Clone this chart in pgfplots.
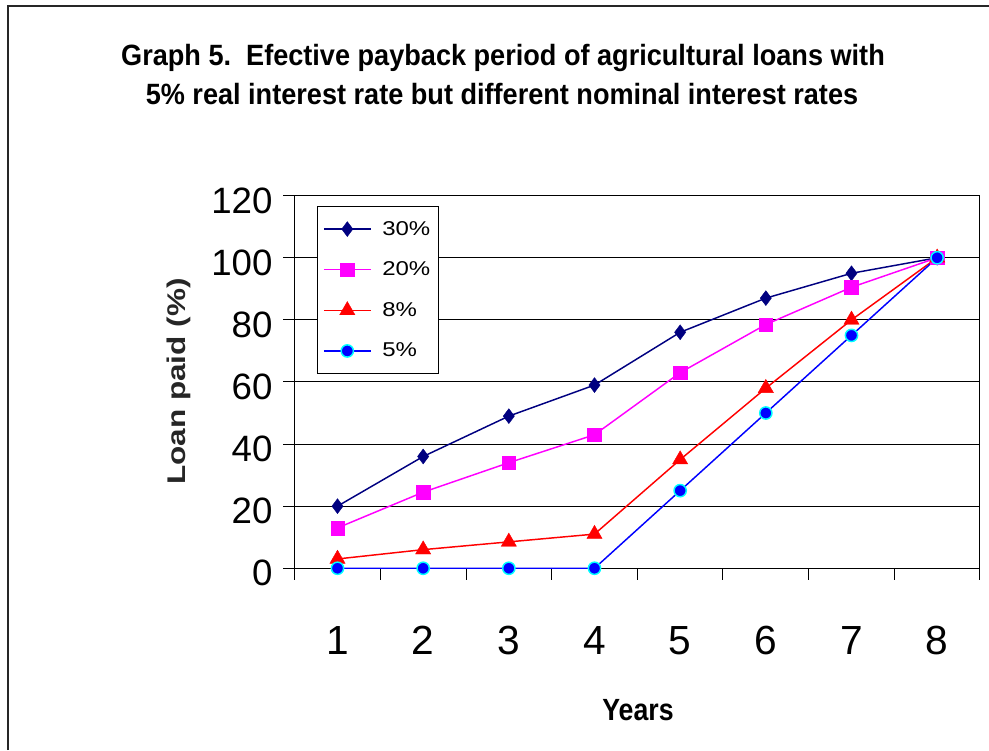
\documentclass[border=0pt]{standalone}
\usepackage{fontspec}
\setmainfont{Liberation Sans}
\usepackage{graphicx}
\usepackage{pgfplots}
\pgfplotsset{compat=1.18}

\definecolor{navyline}{HTML}{000080}
\definecolor{magline}{HTML}{FF00FF}
\definecolor{redline}{HTML}{FF0000}
\definecolor{blueline}{HTML}{0000FF}
\definecolor{cyanring}{HTML}{00FFFF}

\pgfplotstableread{
year r30 r20 r8 r5
1 20 13 3 0
2 36 24.5 6 0
3 49 34 8.5 0
4 59 43 11 0
5 76 63 35 25
6 87 78.5 58 50
7 95 90.5 80 75
8 100 100 100 100
}\loantable

\begin{document}
\begin{tikzpicture}[x=0.75pt,y=0.75pt]
\useasboundingbox (0,0) rectangle (989,750);
% outer chart frame
\draw[line width=1.4pt, black!85] (8,0) -- (8,744) -- (989,744);

\begin{axis}[
  at={(221.0pt,136.3pt)}, anchor=south west,
  scale only axis, width=514pt, height=279.45pt,
  xmin=0.5, xmax=8.5, ymin=0, ymax=120,
  xtick={0.5,1.5,...,8.5}, xticklabels={},
  extra x ticks={1,2,3,4,5,6,7,8},
  extra x tick labels={1,2,3,4,5,6,7,8},
  extra x tick style={
    major tick length=0pt,
    xticklabel style={font=\fontsize{30.5}{30.5}\selectfont, anchor=base, yshift=-64.5pt},
  },
  ytick={0,20,...,120},
  tick align=outside, tick pos=left,
  major tick length=8.6pt,
  tick style={black, line width=0.75pt},
  ymajorgrids,
  major grid style={black, line width=0.75pt},
  axis line style={black, line width=0.75pt},
  /pgf/number format/assume math mode=true,
  yticklabel style={font=\fontsize{27.5}{27.5}\selectfont, anchor=east, xshift=-4.5pt, yshift=-3.75pt},
  clip=false,
  legend style={
    at={(0.033,0.9724)}, anchor=north west,
    draw=black, line width=0.75pt,
    font=\fontsize{15}{15}\selectfont,
    row sep=14.5pt, column sep=6pt,
    inner xsep=4pt, inner ysep=9pt,
  },
  legend cell align=left,
  legend image code/.code={
    \draw[mark repeat=2,mark phase=2,#1] plot coordinates {(0pt,0pt) (17.6pt,0pt) (35.25pt,0pt)};
  },
]
\addplot[navyline, line width=1.1pt, mark=diamond*, mark size=5.6pt,
  mark options={fill=navyline, draw=navyline, line width=0.3pt}]
  table[x=year, y=r30] {\loantable};
\addlegendentry{\scalebox{1.2}[1]{30\%}}
\addplot[magline, line width=1.1pt, mark=square*, mark size=5.1pt,
  mark options={fill=magline, draw=magline, line width=0.3pt}]
  table[x=year, y=r20] {\loantable};
\addlegendentry{\scalebox{1.2}[1]{20\%}}
\addplot[redline, line width=1.1pt, mark=triangle*, mark size=6.6pt,
  mark options={fill=redline, draw=redline, line width=0.3pt}]
  table[x=year, y=r8] {\loantable};
\addlegendentry{\scalebox{1.2}[1]{8\%}}
\addplot[blueline, line width=1.1pt, mark=*, mark size=4.6pt,
  mark options={fill=blueline, draw=cyanring, line width=1.1pt}]
  table[x=year, y=r5] {\loantable};
\addlegendentry{\scalebox{1.2}[1]{5\%}}
\end{axis}

% titles and axis labels
\node[anchor=base, font=\bfseries\fontsize{22}{22}\selectfont] at (503,684.3)
  {\scalebox{0.924}[1]{Graph 5.\ \ Efective payback period of agricultural loans with}};
\node[anchor=base, font=\bfseries\fontsize{22}{22}\selectfont] at (502,645.7)
  {\scalebox{0.924}[1]{5\% real interest rate but different nominal interest rates}};
\node[rotate=90, anchor=base, text=black!85, font=\bfseries\fontsize{19.2}{19.2}\selectfont] at (185,368.3)
  {\scalebox{1.23}[1]{Loan paid (\%)}};
\node[anchor=base, font=\bfseries\fontsize{23}{23}\selectfont] at (638,30)
  {\scalebox{0.87}[1]{Years}};
\end{tikzpicture}
\end{document}
